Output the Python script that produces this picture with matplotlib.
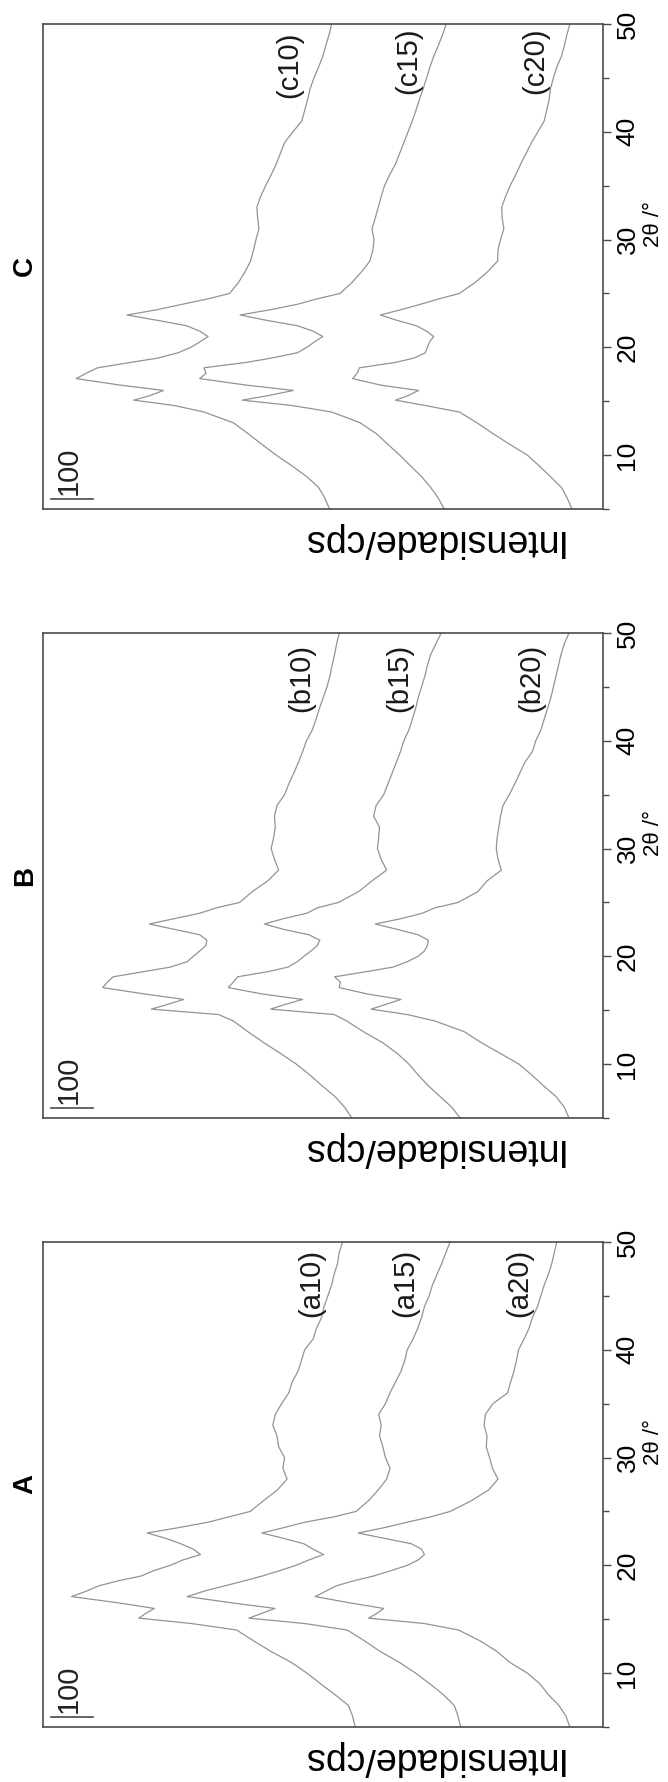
import matplotlib
matplotlib.use("Agg")
import matplotlib.pyplot as plt
from matplotlib.ticker import MultipleLocator

plt.rcParams['font.family'] = ['Liberation Sans', 'DejaVu Sans']

# 2theta grid (degrees) shared by all patterns
two_theta = [5, 6, 7, 8, 9, 10, 11, 12, 13, 14, 14.6, 15.1, 15.5, 16, 16.5, 17.1, 17.6, 18.1, 18.6,
             19, 19.5, 20, 20.5, 21, 21.5, 22, 22.5, 23, 23.5, 24, 24.5, 25, 26, 27, 28, 29, 30, 31,
             32, 33, 34, 35, 36, 37, 38, 39, 40, 41, 42, 43, 44, 45, 46, 47, 48, 49, 50]

# intensities (cps, stacked offsets included)
a10 = [590, 596, 606, 638, 672, 705, 742, 790, 832, 872, 980, 1105, 1090, 1068, 1150, 1265, 1230, 1200, 1150,
       1100, 1070, 1030, 1000, 958, 975, 1005, 1040, 1085, 1010, 940, 890, 840, 808, 775, 752, 762, 758, 772,
       776, 786, 780, 765, 748, 740, 726, 718, 710, 690, 682, 670, 664, 655, 646, 640, 632, 628, 620]
a15 = [339, 345, 354, 380, 412, 446, 485, 530, 568, 609, 710, 843, 815, 781, 880, 990, 950, 900, 850,
       812, 770, 731, 700, 665, 690, 712, 760, 812, 760, 710, 640, 588, 558, 535, 515, 507, 518, 524,
       532, 528, 534, 518, 507, 494, 481, 472, 466, 452, 441, 432, 425, 414, 406, 395, 384, 374, 364]
a20 = [79, 88, 105, 130, 150, 180, 222, 252, 293, 344, 425, 558, 540, 522, 600, 685, 660, 635, 590,
       547, 505, 466, 440, 425, 432, 456, 520, 583, 520, 466, 410, 364, 313, 272, 250, 263, 270, 278,
       276, 283, 280, 262, 227, 220, 212, 206, 201, 188, 176, 168, 156, 148, 140, 130, 122, 116, 110]

b10 = [598, 615, 638, 669, 698, 730, 768, 808, 845, 880, 915, 1075, 1040, 998, 1090, 1191, 1180, 1166, 1090,
       1030, 990, 975, 960, 945, 943, 960, 1020, 1080, 1020, 960, 920, 865, 835, 798, 772, 782, 790, 784,
       780, 782, 776, 758, 748, 736, 725, 715, 706, 692, 683, 675, 666, 657, 650, 645, 639, 634, 628]
b15 = [340, 360, 388, 416, 440, 462, 490, 525, 570, 610, 640, 791, 760, 715, 810, 892, 880, 870, 795,
       750, 728, 712, 695, 680, 674, 700, 760, 806, 760, 705, 680, 630, 582, 550, 515, 528, 537, 534,
       532, 546, 540, 522, 512, 502, 492, 482, 474, 462, 454, 446, 440, 432, 424, 418, 410, 398, 385]
b20 = [81, 92, 112, 142, 170, 200, 245, 290, 330, 400, 466, 552, 520, 481, 560, 628, 625, 639, 560,
       500, 466, 440, 425, 418, 416, 440, 490, 542, 480, 430, 400, 345, 298, 276, 242, 250, 254, 252,
       248, 244, 238, 223, 210, 198, 186, 168, 160, 148, 140, 132, 124, 118, 112, 106, 100, 92, 81]

c10 = [651, 662, 677, 705, 740, 778, 812, 845, 880, 950, 1020, 1117, 1080, 1046, 1150, 1254, 1230, 1203, 1125,
       1060, 1011, 981, 960, 940, 960, 991, 1060, 1133, 1060, 1001, 940, 889, 868, 852, 839, 832, 826, 819,
       822, 824, 815, 803, 790, 778, 768, 758, 738, 717, 710, 703, 697, 688, 677, 667, 660, 652, 646]
c15 = [378, 392, 410, 432, 458, 484, 512, 540, 578, 646, 740, 859, 800, 737, 850, 960, 945, 950, 849,
       790, 727, 705, 687, 667, 690, 727, 800, 864, 790, 727, 680, 626, 598, 575, 555, 548, 545, 550,
       542, 535, 528, 520, 508, 494, 484, 474, 464, 454, 445, 437, 428, 420, 412, 403, 392, 382, 373]
c20 = [74, 85, 99, 125, 152, 180, 222, 262, 300, 342, 423, 494, 465, 439, 530, 596, 585, 580, 494,
       450, 423, 418, 413, 403, 420, 444, 490, 530, 480, 434, 390, 342, 305, 275, 251, 250, 244, 236,
       240, 241, 232, 221, 208, 196, 183, 170, 155, 140, 134, 128, 125, 118, 110, 99, 92, 86, 79]

panel_titles = ["C", "B", "A"]
panel_curves = [[c10, c15, c20], [b10, b15, b20], [a10, a15, a20]]
panel_labels = [["(c10)", "(c15)", "(c20)"], ["(b10)", "(b15)", "(b20)"], ["(a10)", "(a15)", "(a20)"]]
label_x = [[746, 464, 162], [718, 485, 170], [695, 471, 200]]
label_y = [[46.2, 46.6, 46.6], [45.8, 45.8, 45.8], [46.2, 46.2, 46.2]]

W, H = 668, 1782
fig = plt.figure(figsize=(W / 100, H / 100), dpi=100)
frame_col = '#4a4a4a'
line_col = '#939393'
ax_tops = [24, 633, 1242]
ax_left, ax_w, ax_h = 43, 560, 485

for k in range(3):
    ax = fig.add_axes([ax_left / W, 1 - (ax_tops[k] + ax_h) / H, ax_w / W, ax_h / H])
    for curve in panel_curves[k]:
        ax.plot(curve, two_theta, color=line_col, lw=0.9)
    ax.set_xlim(1333, 0)
    ax.set_ylim(5, 50)
    ax.set_xticks([])
    ax.yaxis.tick_right()
    ax.yaxis.set_major_locator(MultipleLocator(10))
    ax.yaxis.set_minor_locator(MultipleLocator(5))
    ax.tick_params(axis='y', which='major', direction='out', length=6, width=1, color=frame_col,
                   labelsize=19, labelrotation=90, pad=3)
    ax.tick_params(axis='y', which='minor', direction='out', length=4, width=1, color=frame_col)
    ax.set_yticks([10, 20, 30, 40, 50])
    ax.set_yticklabels(["10", "20", "30", "40", "50"], family=['Liberation Sans Narrow', 'Liberation Sans'])
    for t in ax.get_yticklabels():
        t.set_va('center')
    for s in ax.spines.values():
        s.set_color(frame_col)
        s.set_linewidth(1.2)

    for lab, lx, ly in zip(panel_labels[k], label_x[k], label_y[k]):
        ax.text(lx, ly, lab, rotation=90, ha='center', va='center', fontsize=21, color='#1a1a1a')

    # 100 cps scale bar
    ax.plot([1214, 1314], [5.9, 5.9], color=frame_col, lw=1.2)
    ax.text(1271, 6.3, "100", rotation=90, ha='center', va='bottom', fontsize=21,
            family=['Liberation Sans Narrow', 'Liberation Sans'], color='#222222')

    ax.text(-0.032, 0.5, panel_titles[k], transform=ax.transAxes, rotation=90, ha='center', va='center',
            fontsize=20, fontweight='bold')
    ax.text(0.693, -0.027, "Intensidade/cps", transform=ax.transAxes, rotation=180, ha='center', va='top',
            fontsize=27)
    ax.text(1.09, 29.3, "2θ /°", transform=ax.get_yaxis_transform(), rotation=90, ha='center',
            va='bottom', fontsize=16)

fig.savefig("out.png", dpi=100, facecolor='white')
